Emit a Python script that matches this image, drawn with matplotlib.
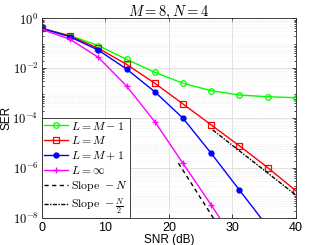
import matplotlib
matplotlib.use("Agg")
import matplotlib.pyplot as plt
import matplotlib.ticker as mticker
import numpy as np

plt.rcParams['mathtext.fontset'] = 'cm'
plt.rcParams['font.family'] = ['Liberation Sans', 'DejaVu Sans']

snr = [0, 4.44, 8.89, 13.33, 17.78, 22.22, 26.67, 31.11, 35.56, 40]
ser_m1_log = [-0.40, -0.69, -1.09, -1.64, -2.16, -2.60, -2.90, -3.07, -3.14, -3.18]
ser_m_log = [-0.40, -0.71, -1.20, -1.84, -2.60, -3.43, -4.27, -5.11, -5.98, -6.91]
ser_p1_log = [-0.40, -0.74, -1.27, -2.03, -2.94, -4.00, -5.41, -6.88, -8.35, -9.80]
ser_inf_log = [-0.44, -0.84, -1.56, -2.71, -4.14, -5.81, -7.48, -9.2, -10.9, -12.6]

slope_n_x = [21.5, 27.0]
slope_n_log = [-5.8, -8.0]
slope_n2_x = [26.9, 40.0]
slope_n2_log = [-4.47, -7.08]

labels = [r'$L=M-1$', r'$L=M$', r'$L=M+1$', r'$L=\infty$',
          r'$\mathrm{Slope}\ -N$', r'$\mathrm{Slope}\ -\frac{N}{2}$']
ytick_exps = [0, -2, -4, -6, -8]
xticks = [0, 10, 20, 30, 40]

fig = plt.figure(figsize=(3.27, 2.45), dpi=100)
ax = fig.add_axes([0.128, 0.110, 0.777, 0.815])

p = lambda a: 10.0 ** np.array(a)
ax.semilogy(snr, p(ser_m1_log), '-o', color='#00ff00', mfc='none', ms=4, lw=1.0, mew=0.9, label=labels[0])
ax.semilogy(snr, p(ser_m_log), '-s', color='#ff0000', mfc='none', ms=4, lw=1.0, mew=0.9, label=labels[1])
ax.semilogy(snr, p(ser_p1_log), '-o', color='#0000ff', mfc='#0000ff', ms=3.5, lw=1.0, label=labels[2])
ax.semilogy(snr, p(ser_inf_log), '-+', color='#ff00ff', ms=5, lw=1.0, mew=1.0, label=labels[3])
ax.semilogy(slope_n_x, p(slope_n_log), color='k', lw=1.0, ls=(0, (3, 2.5)), label=labels[4])
ax.semilogy(slope_n2_x, p(slope_n2_log), color='k', lw=1.0, ls=(0, (3, 1, 1, 1)), label=labels[5])

ax.set_xlim(0, 40)
ax.set_ylim(1e-8, 1)
ax.set_xticks(xticks)
ax.set_yticks([10.0 ** e for e in ytick_exps])
ax.yaxis.set_major_formatter(mticker.FuncFormatter(
    lambda v, pos: r'$\mathsf{10^{%d}}$' % int(round(np.log10(v)))))
ax.yaxis.set_minor_locator(mticker.LogLocator(base=10, subs=np.arange(2, 10), numticks=20))
ax.yaxis.set_minor_formatter(mticker.NullFormatter())
ax.tick_params(labelsize=9, direction='in', which='both', top=True, right=True, length=3, width=0.5, pad=2.5)
ax.tick_params(which='minor', length=1.5)
ax.tick_params(axis='x', which='minor', bottom=False, top=False)
ax.grid(True, which='major', color='#dcdcdc', lw=0.6)
ax.grid(True, axis='y', which='minor', color='#e6e6e6', lw=0.5, ls=':')
ax.set_axisbelow(True)
for s in ax.spines.values():
    s.set_linewidth(0.6)
    s.set_color('#262626')

ax.set_xlabel('SNR (dB)', fontsize=8.5, labelpad=0)
ax.set_ylabel('SER', fontsize=8.5, labelpad=0)
ax.set_title(r'$M=8,N=4$', fontsize=10.5, pad=2)

leg = ax.legend(loc='lower left', fontsize=8.5, frameon=True, fancybox=False,
                edgecolor='#262626', framealpha=1, borderaxespad=0,
                handlelength=2.0, handletextpad=0.3, labelspacing=0.22, borderpad=0.2)
leg.get_frame().set_linewidth(0.6)

fig.savefig('out.png', dpi=100)
